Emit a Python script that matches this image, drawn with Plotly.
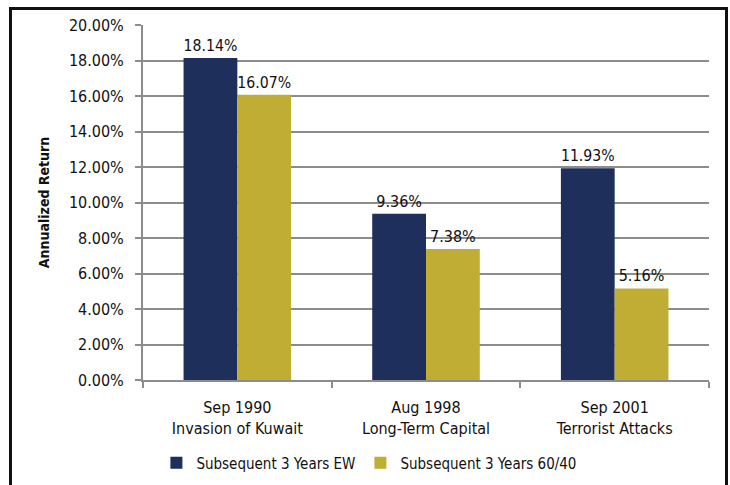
import plotly.graph_objects as go

categories = ["Sep 1990<br>Invasion of Kuwait", "Aug 1998<br>Long-Term Capital", "Sep 2001<br>Terrorist Attacks"]
ew_values = [18.14, 9.36, 11.93]
sixty_forty_values = [16.07, 7.38, 5.16]
series_names = ["Subsequent 3 Years EW", "Subsequent 3 Years 60/40"]
y_ticks = [0, 2, 4, 6, 8, 10, 12, 14, 16, 18, 20]

FONT = "DejaVu Sans Condensed, sans-serif"
NAVY = "#1f2f5c"
GOLD = "#c0ad33"
INK = "#111111"
GRID = "#8c8c8c"

fig = go.Figure()
for name, vals, col in [(series_names[0], ew_values, NAVY), (series_names[1], sixty_forty_values, GOLD)]:
    fig.add_trace(go.Bar(
        x=categories, y=vals, name=name, marker=dict(color=col, line=dict(width=0)),
        text=[f"{v:.2f}%" for v in vals], textposition="outside",
        textfont=dict(family=FONT, size=16, color=INK), cliponaxis=False,
    ))

L, R, T, B = 143, 21, 25, 105
W, H = 730, 485
pw, ph = W - L - R, H - T - B

fig.update_layout(
    width=W, height=H, margin=dict(l=L, r=R, t=T, b=B, autoexpand=False),
    paper_bgcolor="white", plot_bgcolor="white",
    barmode="group", bargap=0.43, bargroupgap=0,
    font=dict(family=FONT, size=16, color=INK),
    showlegend=True,
    legend=dict(orientation="h", x=0.40, xanchor="center", y=(380 - 463) / ph, yanchor="middle",
                font=dict(family=FONT, size=15, color=INK),
                traceorder="normal"),
    xaxis=dict(showline=True, linecolor=GRID, linewidth=2, ticks="outside",
               tickcolor=GRID, ticklen=6, tickwidth=2, tickson="boundaries",
               ticklabelstandoff=12,
               tickfont=dict(family=FONT, size=16, color=INK), showgrid=False),
    yaxis=dict(range=[0, 20], tickvals=y_ticks, ticktext=[f"{v:.2f}%" for v in y_ticks],
               showline=True, linecolor=GRID, linewidth=2, ticks="outside",
               tickcolor=GRID, ticklen=6, tickwidth=2, ticklabelstandoff=8,
               showgrid=True, gridcolor=GRID, gridwidth=2, zeroline=False,
               tickfont=dict(family=FONT, size=16, color=INK),
               title=dict(text="<b>Annualized Return</b>", font=dict(family=FONT, size=14, color=INK), standoff=16)),
)

def px_x(p):
    return (p - L) / pw

def px_y(p):
    return (H - B - p) / ph

fig.add_shape(type="rect", xref="paper", yref="paper",
              x0=px_x(10.5), x1=px_x(726.5), y0=px_y(495), y1=px_y(8.5),
              line=dict(color=INK, width=3), fillcolor="rgba(0,0,0,0)", layer="above")

fig.write_html("out.html")
